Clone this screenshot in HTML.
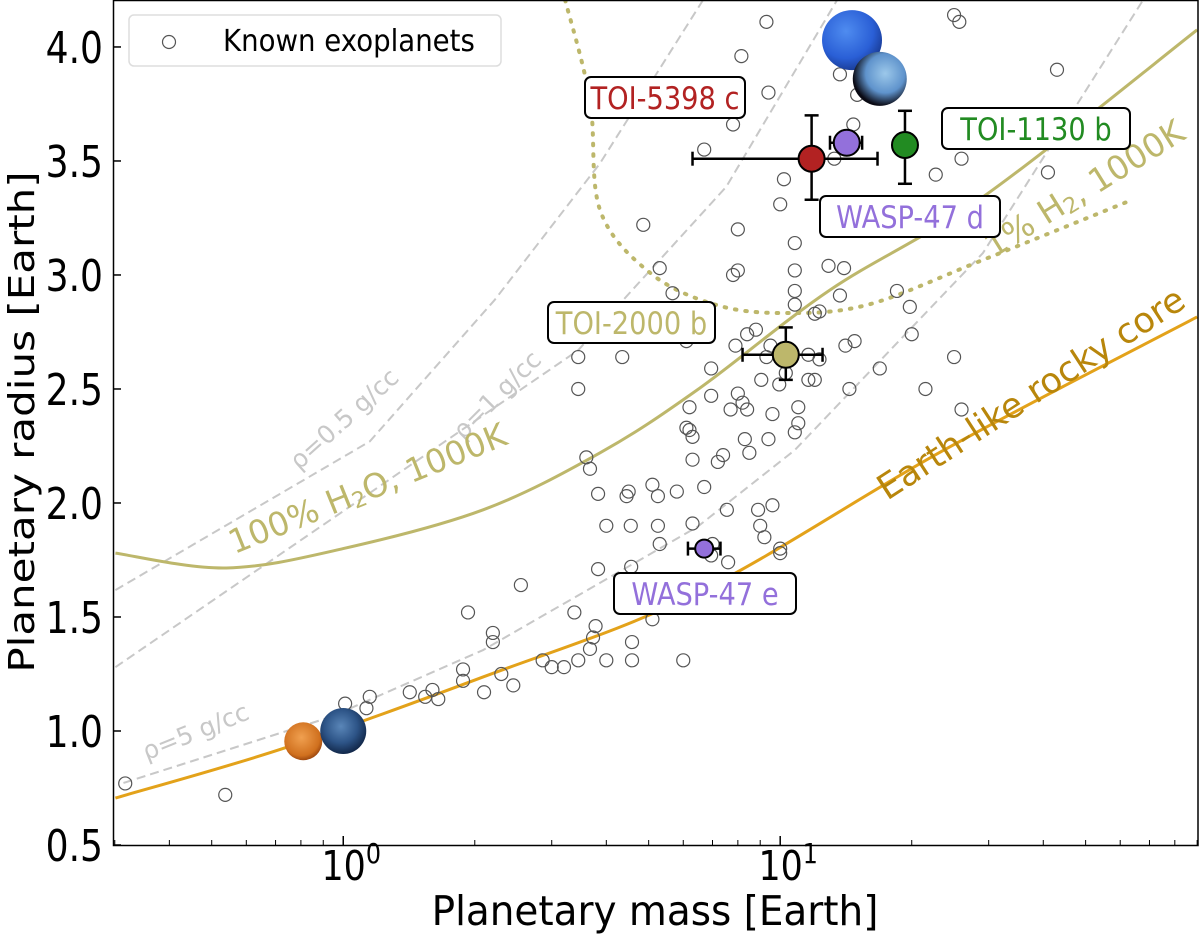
<!DOCTYPE html>
<html><head><meta charset="utf-8"><style>
html,body{margin:0;padding:0;background:#fff;}
svg{display:block;font-family:"DejaVu Sans","Liberation Sans",sans-serif;}
</style></head><body>
<svg id="chart" width="1200" height="937" viewBox="0 0 1200 937" xmlns="http://www.w3.org/2000/svg">
<defs>
<clipPath id="clip"><rect x="114" y="1" width="1084" height="844"/></clipPath>
<radialGradient id="gNep" cx="40%" cy="35%" r="65%"><stop offset="0" stop-color="#4f8cf0"/><stop offset="0.7" stop-color="#2a5fd6"/><stop offset="1" stop-color="#1b3f9c"/></radialGradient>
<radialGradient id="gUra" cx="60%" cy="40%" r="60%"><stop offset="0" stop-color="#9cc8ea"/><stop offset="0.6" stop-color="#5f93cc"/><stop offset="1" stop-color="#0a0a14"/></radialGradient>
<radialGradient id="gMars" cx="45%" cy="40%" r="60%"><stop offset="0" stop-color="#f0a050"/><stop offset="0.8" stop-color="#d0701e"/><stop offset="1" stop-color="#a04a10"/></radialGradient>
<radialGradient id="gEarth" cx="45%" cy="40%" r="60%"><stop offset="0" stop-color="#5a86b8"/><stop offset="0.6" stop-color="#2d5487"/><stop offset="1" stop-color="#12284a"/></radialGradient>
</defs>
<g id="plot" clip-path="url(#clip)"></g>
<g id="overlay"></g>
<rect x="113.5" y="0.5" width="1084.5" height="845" fill="none" stroke="#000" stroke-width="1.5"/>
<g id="axes"></g>
</svg>
<script>
const NS="http://www.w3.org/2000/svg";
// ---- data ----
const scatterMass=[0.317,0.537,1.01,1.15,1.13,1.42,1.54,1.65,1.6,1.88,1.88,2.1,1.93,2.2,2.2,2.3,2.45,2.55,2.86,3.0,3.2,3.38,3.6,3.67,3.45,3.45,3.45,3.78,3.83,3.83,3.73,3.67,4.0,4.0,4.35,4.45,4.5,4.55,4.56,4.58,4.58,4.58,4.78,5.1,4.86,5.1,5.25,5.3,5.25,5.8,5.3,5.67,6.0,6.1,6.1,6.2,6.2,6.3,6.3,6.3,6.7,6.7,6.65,6.95,7.0,6.95,6.95,7.2,7.4,7.55,7.6,7.7,7.8,7.8,8.0,8.0,8.15,8.0,7.9,8.2,8.3,8.4,8.4,8.8,8.5,8.9,9.0,9.2,9.05,9.3,9.5,9.6,9.4,9.4,9.6,10,10,10,10.2,9.95,10.3,10.8,10.8,10.8,10.8,10.8,11,11,11.6,11.6,12,12,12.3,12.3,12.9,13.3,14.1,14,13.7,14.4,14.8,13.7,15,14.7,14.7,9.3,25,25.7,16.9,18.5,19.8,20,21.5,22.7,25,26,41,43,26];
const scatterRadius=[0.77,0.72,1.12,1.15,1.10,1.17,1.15,1.14,1.18,1.22,1.27,1.17,1.52,1.43,1.39,1.25,1.20,1.64,1.31,1.28,1.28,1.52,2.2,2.15,2.64,2.50,1.31,1.46,1.71,2.04,1.41,1.36,1.9,1.31,2.64,2.03,2.05,1.9,1.72,1.39,1.31,1.62,1.54,1.49,3.22,2.08,1.9,1.82,2.03,2.05,3.03,2.92,1.31,2.71,2.33,2.32,2.42,2.29,2.19,1.91,2.07,3.55,1.64,1.77,1.82,2.47,2.59,2.18,2.21,1.97,1.74,2.41,3.66,3.0,3.02,3.2,3.96,2.48,2.69,2.44,2.28,2.41,2.74,2.76,2.22,1.97,1.9,1.85,2.54,2.64,2.69,2.39,3.8,2.28,1.99,1.80,1.78,3.31,3.42,2.52,2.57,3.14,3.02,2.93,2.87,2.31,2.35,2.42,2.65,2.54,2.83,2.54,2.63,2.84,3.04,3.51,2.69,3.03,2.91,2.50,2.71,3.88,3.79,3.66,3.57,4.11,4.14,4.11,2.59,2.93,2.86,2.74,2.50,3.44,2.64,3.51,3.45,3.90,2.41];
// model curves
const rho05Mass=[0.301,1.15,2.22,3.87,6.66];
const rho05Radius=[1.618,2.27,2.89,3.49,4.206];
const rho1Mass=[0.301,3.45,4.37,7.52,13.5];
const rho1Radius=[1.28,2.67,2.89,3.386,4.206];
const rho5Mass=[0.314,0.934,2.09,6.46,10.8,29.1,67.7];
const rho5Radius=[0.772,1.061,1.355,1.895,2.232,3.096,4.206];
const waterMass=[0.301,0.54,1.0,2.09,3.87,6.46,13.0,29.1,90.0];
const waterRadius=[1.78,1.715,1.80,1.97,2.22,2.496,2.934,3.342,4.075];
const rockyMass=[0.301,0.733,2.09,6.46,23.7,90.0];
const rockyRadius=[0.706,0.925,1.237,1.605,2.232,2.816];
const h2Mass=[3.22,3.67,3.87,5.04,7.10,10.2,15.9,29.1,63.8];
const h2Radius=[4.206,3.768,3.285,3.009,2.87,2.833,2.87,3.066,3.329];
// highlighted planets
const hlNames=["TOI-5398 c","WASP-47 d","TOI-1130 b","TOI-2000 b","WASP-47 e"];
const hlMass=[11.8,14.2,19.3,10.3,6.7];
const hlMassLo=[6.3,13.0,19.3,8.2,6.15];
const hlMassHi=[16.7,15.4,19.3,12.5,7.3];
const hlRadius=[3.51,3.58,3.57,2.65,1.80];
const hlRadLo=[3.33,3.55,3.40,2.54,1.80];
const hlRadHi=[3.70,3.61,3.72,2.77,1.80];
const hlColors=["#b22222","#9370db","#228b22","#bdb76b","#9370db"];
const yTicks=[0.5,1.0,1.5,2.0,2.5,3.0,3.5,4.0];
const yTickLabels=["0.5","1.0","1.5","2.0","2.5","3.0","3.5","4.0"];
const xTicks=[1,10];
const xTickExp=["0","1"];
// ---- axes ----
const X0=113.5,X1=1198,Y0=845,Y1=0;
const LMIN=Math.log10(0.298),LMAX=Math.log10(90.4);
function xs(m){return X0+(Math.log10(m)-LMIN)/(LMAX-LMIN)*(X1-X0);}
function ys(r){return Y0-(r-0.5)/(4.206-0.5)*(Y0-Y1);}
const plot=document.getElementById('plot'),ov=document.getElementById('overlay'),ax=document.getElementById('axes');
function mk(tag,attrs,parent){const e=document.createElementNS(NS,tag);for(const k in attrs)e.setAttribute(k,attrs[k]);parent.appendChild(e);return e;}
function smoothPath(mx,ry){
  const p=mx.map((m,i)=>[xs(m),ys(ry[i])]);
  let d="M"+p[0][0]+","+p[0][1];
  for(let i=0;i<p.length-1;i++){
    const p0=p[i-1]||p[i],p1=p[i],p2=p[i+1],p3=p[i+2]||p2;
    const c1=[p1[0]+(p2[0]-p0[0])/6,p1[1]+(p2[1]-p0[1])/6];
    const c2=[p2[0]-(p3[0]-p1[0])/6,p2[1]-(p3[1]-p1[1])/6];
    d+=" C"+c1[0]+","+c1[1]+" "+c2[0]+","+c2[1]+" "+p2[0]+","+p2[1];
  }
  return d;
}
function linePath(mx,ry){return mx.map((m,i)=>(i?"L":"M")+xs(m)+","+ys(ry[i])).join(" ");}
function curve(name,d,attrs){const e=mk('path',Object.assign({d:d,fill:'none'},attrs),plot);

return e;}
const dash={stroke:'#c8c8c8','stroke-width':2,'stroke-dasharray':'9,5'};
curve('density-line-0.5',linePath(rho05Mass,rho05Radius),dash);
curve('density-line-1',linePath(rho1Mass,rho1Radius),dash);
curve('density-line-5',linePath(rho5Mass,rho5Radius),dash);
curve('water-curve',smoothPath(waterMass,waterRadius),{stroke:'#bdb76b','stroke-width':3});
curve('rocky-core-curve',smoothPath(rockyMass,rockyRadius),{stroke:'#e3a21a','stroke-width':3});
curve('h2-curve',smoothPath(h2Mass,h2Radius),{stroke:'#bdb76b','stroke-width':4,'stroke-dasharray':'1.5,9','stroke-linecap':'round'});
// scatter
for(let i=0;i<scatterMass.length;i++){
  const c=mk('circle',{cx:xs(scatterMass[i]),cy:ys(scatterRadius[i]),r:6.5,fill:'none',stroke:'#555','stroke-width':1.2},plot);
  
  
}
// solar system planets
function planet(name,cx,cy,r,fill){const c=mk('circle',{cx,cy,r,fill},plot);

}
planet('mars-image',xs(0.81),ys(0.955),19,'url(#gMars)');
planet('earth-image',xs(1.0),ys(1.0),23,'url(#gEarth)');
planet('neptune-image',xs(14.6),ys(4.03),30,'url(#gNep)');
planet('uranus-image',xs(16.9),ys(3.86),27,'url(#gUra)');
// text helper with horizontal compression
function ctext(parent,x,y,size,anchor,color,html,sx,rot){
  const t=mk('text',{x:0,y:0,'font-size':size,fill:color,'text-anchor':anchor,
    transform:`translate(${x} ${y})`+(rot?` rotate(${rot})`:'')+` scale(${sx} 1)`},parent);
  t.innerHTML=html;return t;
}
function rlabel(name,txt,cx,cy,ang,size,color,parent){
  const t=mk('text',{x:cx,y:cy,'font-size':size,fill:color,'text-anchor':'middle','dominant-baseline':'middle',transform:`rotate(${ang} ${cx} ${cy})`},parent);
  t.innerHTML=txt;
  
  
}
rlabel('rho-0.5-label','ρ=0.5 g/cc',345,420,-42,25,'#c8c8c8',plot);
rlabel('rho-1-label','ρ=1 g/cc',498,396,-45,25,'#c8c8c8',plot);
rlabel('rho-5-label','ρ=5 g/cc',196,733,-22,25,'#c8c8c8',plot);
rlabel('water-label','100% H<tspan font-size="22" dy="7">2</tspan><tspan dy="-7">O, 1000K</tspan>',368,490,-22,33,'#bdb76b',plot);
rlabel('rocky-core-label','Earth-like rocky core',1032,395,-33,35,'#b8860b',plot);
rlabel('h2-label','1% H<tspan font-size="22" dy="7">2</tspan><tspan dy="-7">, 1000K</tspan>',1085,190,-32,33,'#bdb76b',plot);
// highlighted planets with error bars
for(let i=0;i<hlNames.length;i++){
  const g=mk('g',{},ov);
  
  
  const x=xs(hlMass[i]),y=ys(hlRadius[i]),xl=xs(hlMassLo[i]),xh=xs(hlMassHi[i]),yl=ys(hlRadLo[i]),yh=ys(hlRadHi[i]);
  if(xh-xl>1){mk('line',{x1:xl,y1:y,x2:xh,y2:y,stroke:'#000','stroke-width':2.5},g);
    mk('line',{x1:xl,y1:y-7,x2:xl,y2:y+7,stroke:'#000','stroke-width':2.5},g);
    mk('line',{x1:xh,y1:y-7,x2:xh,y2:y+7,stroke:'#000','stroke-width':2.5},g);}
  if(yl-yh>1){mk('line',{x1:x,y1:yl,x2:x,y2:yh,stroke:'#000','stroke-width':2.5},g);
    mk('line',{x1:x-7,y1:yl,x2:x+7,y2:yl,stroke:'#000','stroke-width':2.5},g);
    mk('line',{x1:x-7,y1:yh,x2:x+7,y2:yh,stroke:'#000','stroke-width':2.5},g);}
  mk('circle',{cx:x,cy:y,r:i==4?9:13,fill:hlColors[i],stroke:'#000','stroke-width':2},g);
}
// label boxes
const boxX=[585,820,942,548,614],boxY=[77,196,108,302,573],boxW=[160,180,188,167,182];
for(let i=0;i<hlNames.length;i++){
  const g=mk('g',{},ov);
  
  
  mk('rect',{x:boxX[i],y:boxY[i],width:boxW[i],height:41,rx:6,fill:'#fff',stroke:'#000','stroke-width':2},g);
  ctext(g,boxX[i]+boxW[i]/2,boxY[i]+32,31,'middle',hlColors[i],hlNames[i],0.88);
}
// legend
const lg=mk('g',{},ov);


mk('rect',{x:129,y:15,width:372,height:51,rx:5,fill:'#fff',stroke:'#ddd','stroke-width':1.5},lg);
mk('circle',{cx:169,cy:42,r:6.5,fill:'none',stroke:'#555','stroke-width':1.2},lg);
const lt=ctext(lg,223,51,30,'start','#000','Known exoplanets',0.92);


// axes ticks
for(let i=0;i<yTicks.length;i++){
  const y=ys(yTicks[i]);
  mk('line',{x1:113,y1:y,x2:121,y2:y,stroke:'#000','stroke-width':1.5},ax);
  const t=ctext(ax,103,y+16,44,'end','#000',yTickLabels[i],0.82);
  
  
}
for(let d=-1;d<=1;d++){for(let k=2;k<=9;k++){const m=k*Math.pow(10,d);if(m<0.3||m>90)continue;const x=xs(m);
  mk('line',{x1:x,y1:845,x2:x,y2:840,stroke:'#000','stroke-width':1},ax);}}
for(let i=0;i<xTicks.length;i++){
  const x=xs(xTicks[i]);
  mk('line',{x1:x,y1:845,x2:x,y2:836,stroke:'#000','stroke-width':1.5},ax);
  const t=ctext(ax,x+8,880,41,'middle','#000','10<tspan font-size="28" dy="-17">'+xTickExp[i]+'</tspan>',0.85);
  
  
}
const xt=ctext(ax,655,925,41,'middle','#000','Planetary mass [Earth]',0.95);


const yt=mk('text',{x:0,y:0,'font-size':42,'text-anchor':'middle',fill:'#000',transform:'translate(34 422) rotate(-90) scale(1 0.85)'},ax);yt.textContent='Planetary radius [Earth]';


</script>
</body></html>
